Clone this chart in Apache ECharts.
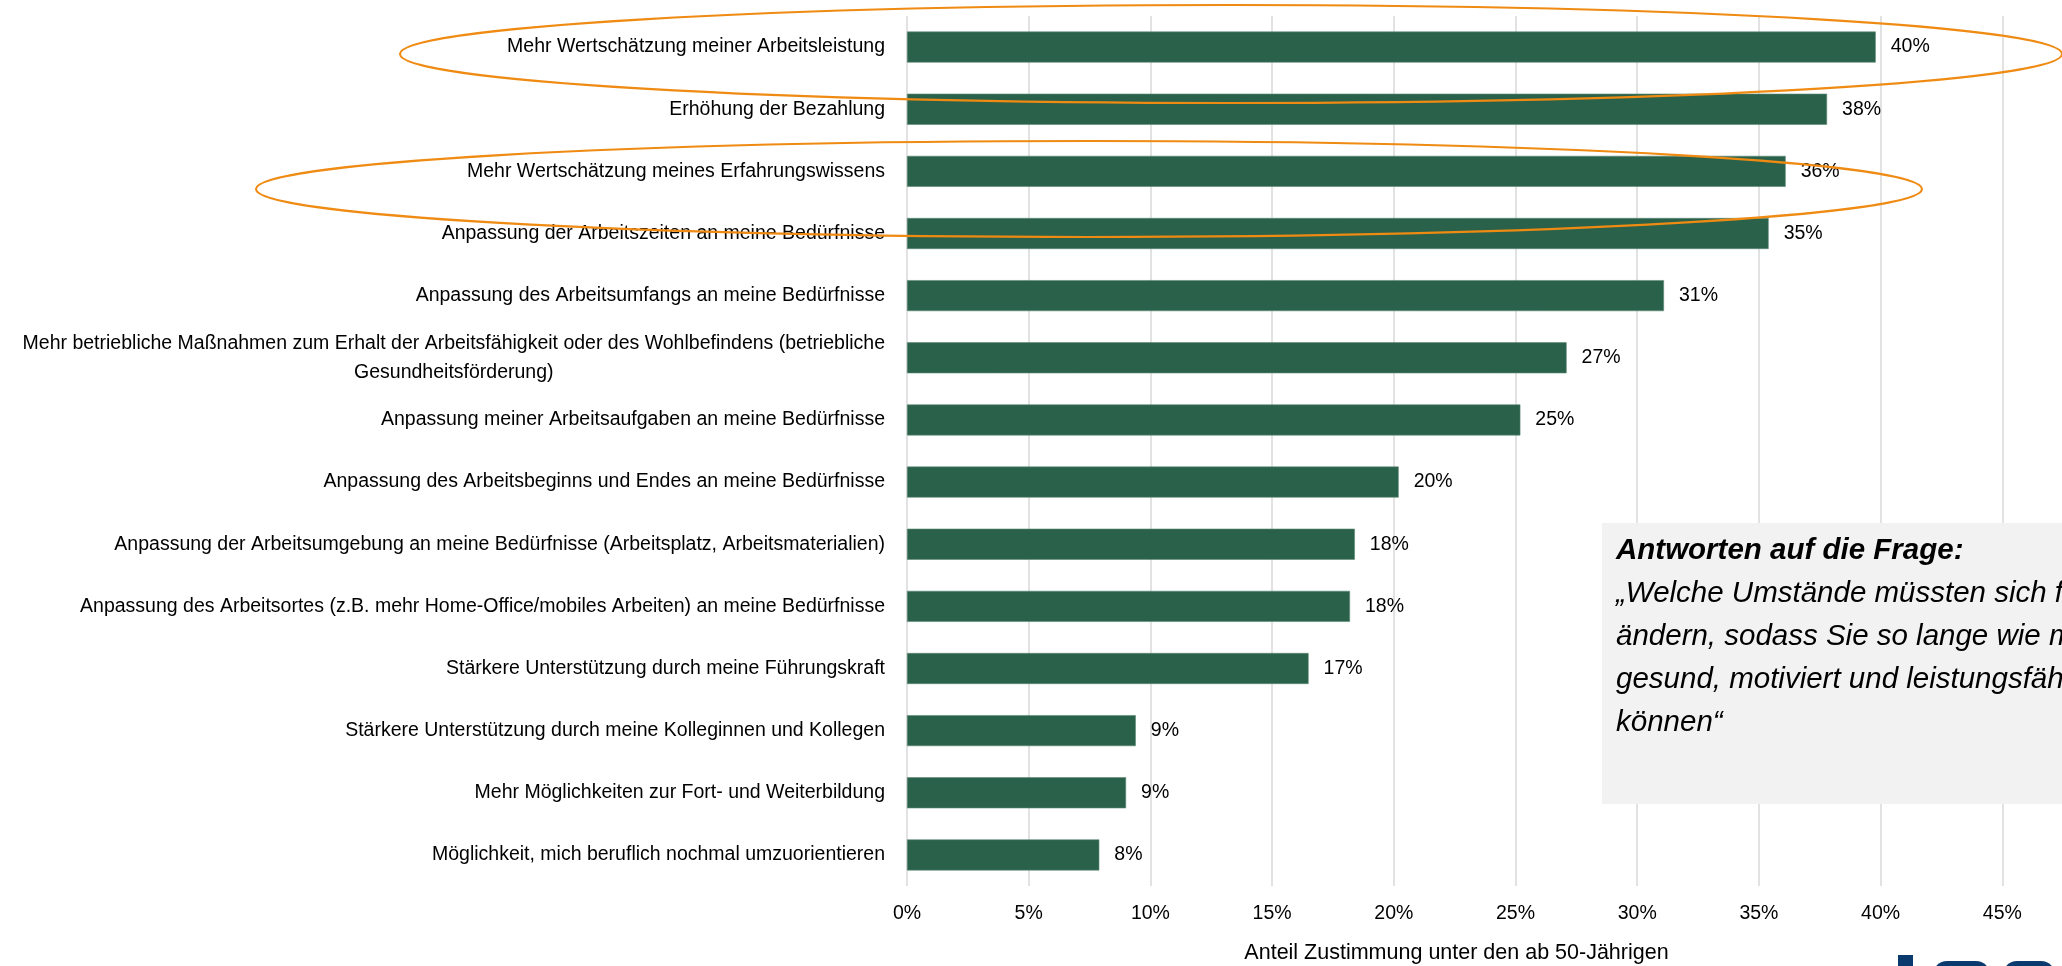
<!DOCTYPE html>
<html>
<head>
<meta charset="utf-8">
<script src="https://cdn.jsdelivr.net/npm/echarts@6/dist/echarts.min.js"></script>
<style>
html,body{margin:0;padding:0;background:#fff;}
#chart{width:2062px;height:966px;}
</style>
</head>
<body>
<div id="chart"></div>
<script>
const categories = [
  'Mehr Wertschätzung meiner Arbeitsleistung',
  'Erhöhung der Bezahlung',
  'Mehr Wertschätzung meines Erfahrungswissens',
  'Anpassung der Arbeitszeiten an meine Bedürfnisse',
  'Anpassung des Arbeitsumfangs an meine Bedürfnisse',
  'Mehr betriebliche Maßnahmen zum Erhalt der Arbeitsfähigkeit oder des Wohlbefindens (betriebliche\nGesundheitsförderung)',
  'Anpassung meiner Arbeitsaufgaben an meine Bedürfnisse',
  'Anpassung des Arbeitsbeginns und Endes an meine Bedürfnisse',
  'Anpassung der Arbeitsumgebung an meine Bedürfnisse (Arbeitsplatz, Arbeitsmaterialien)',
  'Anpassung des Arbeitsortes (z.B. mehr Home-Office/mobiles Arbeiten) an meine Bedürfnisse',
  'Stärkere Unterstützung durch meine Führungskraft',
  'Stärkere Unterstützung durch meine Kolleginnen und Kollegen',
  'Mehr Möglichkeiten zur Fort- und Weiterbildung',
  'Möglichkeit, mich beruflich nochmal umzuorientieren'
];
const values = [39.8, 37.8, 36.1, 35.4, 31.1, 27.1, 25.2, 20.2, 18.4, 18.2, 16.5, 9.4, 9.0, 7.9];
const valueLabels = ['40%', '38%', '36%', '35%', '31%', '27%', '25%', '20%', '18%', '18%', '17%', '9%', '9%', '8%'];
const axisTitle = 'Anteil Zustimmung unter den ab 50-Jährigen';
const boxTitle = 'Antworten auf die Frage:';
const boxLines = [
  '„Welche Umstände müssten sich für Sie',
  'ändern, sodass Sie so lange wie möglich',
  'gesund, motiviert und leistungsfähig arbeiten',
  'können“'
];

const FONT = '"Liberation Sans Narrow", "Arial Narrow", "Liberation Sans", Arial, sans-serif';
const FS = 19.5;
const chart = echarts.init(document.getElementById('chart'));

chart.setOption({
  backgroundColor: '#ffffff',
  animation: false,
  grid: { left: 907, right: -62, top: 16, bottom: 80, containLabel: false, outerBoundsMode: 'none' },
  xAxis: {
    type: 'value',
    min: 0, max: 50, interval: 5,
    axisLine: { show: false },
    axisTick: { show: false },
    splitLine: { show: true, lineStyle: { color: '#d9d9d9', width: 1.5 } },
    axisLabel: {
      formatter: v => v + '%',
      color: '#000', fontFamily: FONT, fontSize: FS, margin: 18
    },
    name: axisTitle,
    nameLocation: 'middle',
    nameGap: 56,
    nameTextStyle: { color: '#000', fontFamily: FONT, fontSize: 21.5, padding: [0, 118, 0, 0] }
  },
  yAxis: {
    type: 'category',
    inverse: true,
    data: categories,
    axisLine: { show: false },
    axisTick: { show: false },
    splitLine: { show: false },
    axisLabel: {
      color: '#000', fontFamily: FONT, fontSize: FS, margin: 22,
      formatter: function (v) {
        if (v.indexOf('\n') >= 0) {
          return v.split('\n').map(s => '{c|' + s + '}').join('\n');
        }
        return v;
      },
      rich: {
        c: { align: 'center', color: '#000', fontFamily: FONT, fontSize: FS, lineHeight: 29 }
      }
    }
  },
  series: [{
    type: 'bar',
    data: values,
    barWidth: 31,
    itemStyle: { color: '#2a614a', borderColor: '#5d8a76', borderWidth: 0.6 },
    label: {
      show: true, position: 'right', distance: 15,
      formatter: p => valueLabels[p.dataIndex],
      color: '#000', fontFamily: FONT, fontSize: FS
    }
  }],
  graphic: [
    {
      type: 'rect', z: 100,
      shape: { x: 1602, y: 523, width: 500, height: 281 },
      style: { fill: '#f2f2f2' }
    },
    {
      type: 'text', z: 101,
      left: 1616, top: 536,
      style: {
        text: '{t|' + boxTitle + '}\n' + boxLines.map(s => '{q|' + s + '}').join('\n'),
        rich: {
          t: { fontFamily: FONT, fontSize: 29.5, fontWeight: 'bold', fontStyle: 'italic', lineHeight: 43, fill: '#000' },
          q: { fontFamily: FONT, fontSize: 29.5, fontStyle: 'italic', lineHeight: 43, fill: '#000' }
        }
      }
    },
    {
      type: 'ellipse', z: 110,
      shape: { cx: 1231, cy: 54, rx: 831, ry: 49 },
      style: { fill: 'none', stroke: '#ef8a12', lineWidth: 2.2 }
    },
    {
      type: 'ellipse', z: 110,
      shape: { cx: 1089, cy: 189, rx: 833, ry: 48 },
      style: { fill: 'none', stroke: '#ef8a12', lineWidth: 2.2 }
    },
    {
      type: 'rect', z: 100,
      shape: { x: 1898, y: 955, width: 15, height: 20 },
      style: { fill: '#0b3b6e' }
    },
    {
      type: 'rect', z: 100,
      shape: { x: 1933, y: 961, width: 57, height: 30, r: 14 },
      style: { fill: '#0b3b6e' }
    },
    {
      type: 'rect', z: 100,
      shape: { x: 2003, y: 961, width: 52, height: 30, r: 14 },
      style: { fill: '#0b3b6e' }
    }
  ]
});
</script>
</body>
</html>
